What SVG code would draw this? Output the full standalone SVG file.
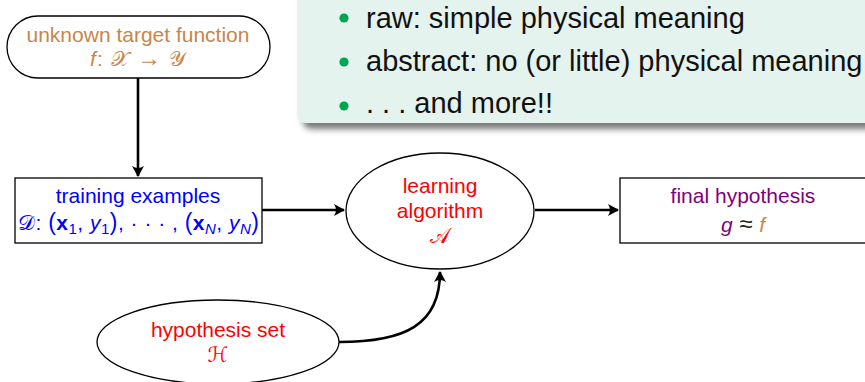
<svg xmlns="http://www.w3.org/2000/svg" width="865" height="382" viewBox="0 0 865 382">
<style>
text{font-family:"Liberation Sans",Arial,sans-serif;font-size:21px;text-anchor:middle}
.node{fill:#fff;stroke:#000;stroke-width:1.3}
.conn{fill:none;stroke:#000;stroke-width:2.6}
.brown{fill:#c8864a}
.blue{fill:#0000ff}
.red{fill:#ff0000}
.purple{fill:#800080}
.it{font-style:italic}
.bf{font-weight:bold}
.cal{font-family:"DejaVu Serif","DejaVu Sans","Liberation Serif",serif;font-style:normal}
.bul{font-size:29px;text-anchor:start;fill:#111}
.dot{fill:#00a64f}
</style>
<defs>
<marker id="arr" viewBox="-12 -7 14 14" markerWidth="14" markerHeight="14" refX="0" refY="0" orient="auto" markerUnits="userSpaceOnUse">
<path d="M1,0 L-10,-6 Q-6,0 -10,6 Z" fill="#000"/>
</marker>
<filter id="blur" x="-5%" y="-50%" width="110%" height="200%">
<feGaussianBlur stdDeviation="3"/>
</filter>
</defs>

<g id="panel">
<path d="M303,-10 L303,120 Q303,129 312,129 L875,129 L875,-10 Z" fill="#555" opacity="0.8" filter="url(#blur)"/>
<path d="M297,-10 L297,114 Q297,123 306,123 L870,123 L870,-10 Z" fill="#e4f3ee"/>
<circle class="dot" cx="344" cy="18" r="4.6"/>
<circle class="dot" cx="344" cy="62" r="4.6"/>
<circle class="dot" cx="344" cy="106" r="4.6"/>
<text class="bul" x="366" y="28">raw: simple physical meaning</text>
<text class="bul" x="366" y="71">abstract: no (or little) physical meaning</text>
<text class="bul" x="366" y="113">. . . and more!!</text>
</g>

<g id="connectors">
<line class="conn" x1="138" y1="78" x2="138" y2="176" marker-end="url(#arr)"/>
<line class="conn" x1="262" y1="210" x2="344" y2="210" marker-end="url(#arr)"/>
<line class="conn" x1="535" y1="210" x2="618" y2="210" marker-end="url(#arr)"/>
<path class="conn" d="M339,342 C405,342 440,325 440,272" marker-end="url(#arr)"/>
</g>

<g id="target">
<rect class="node" x="7" y="16" width="263" height="62" rx="31" ry="31"/>
<text class="brown" x="138" y="42">unknown target function</text>
<text class="brown" x="90" y="66" style="text-anchor:start" textLength="95" lengthAdjust="spacing"><tspan class="it">f</tspan>: <tspan class="cal">𝒳</tspan> <tspan font-size="24">→</tspan> <tspan class="cal">𝒴</tspan></text>
</g>

<g id="training">
<rect class="node" x="15" y="178" width="247" height="65"/>
<text class="blue" x="138" y="203">training examples</text>
<text class="blue" x="18" y="230" style="text-anchor:start" textLength="241" lengthAdjust="spacing"><tspan class="cal">𝒟</tspan>: <tspan font-size="23">(</tspan><tspan class="bf">x</tspan><tspan font-size="15" dy="4">1</tspan><tspan dy="-4">, </tspan><tspan class="it">y</tspan><tspan font-size="15" dy="4">1</tspan><tspan dy="-4" font-size="23">)</tspan><tspan>, · · · , </tspan><tspan font-size="23">(</tspan><tspan class="bf">x</tspan><tspan class="it" font-size="15" dy="4">N</tspan><tspan dy="-4">, </tspan><tspan class="it">y</tspan><tspan class="it" font-size="15" dy="4">N</tspan><tspan dy="-4" font-size="23">)</tspan></text>
</g>

<g id="algorithm">
<ellipse class="node" cx="440" cy="211" rx="94" ry="58"/>
<text class="red" x="440" y="193">learning</text>
<text class="red" x="440" y="218">algorithm</text>
<text class="red cal" x="440" y="243">𝒜</text>
</g>

<g id="final">
<rect class="node" x="620" y="178" width="250" height="65"/>
<text class="purple" x="743" y="203">final hypothesis</text>
<text x="743" y="232"><tspan class="purple it">g</tspan><tspan fill="#222" font-size="24"> ≈ </tspan><tspan class="brown it">f</tspan></text>
</g>

<g id="hypset">
<ellipse class="node" cx="218" cy="342" rx="121" ry="42"/>
<text class="red" x="218" y="337">hypothesis set</text>
<text class="red cal" x="218" y="362">ℋ</text>
</g>
</svg>
